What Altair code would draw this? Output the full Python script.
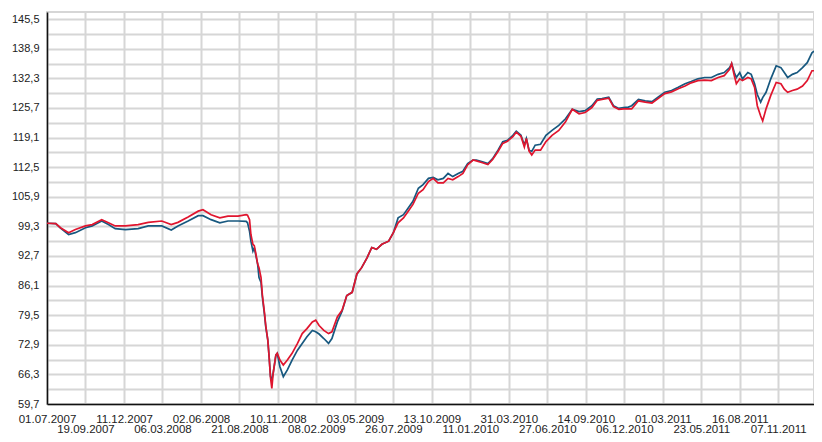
import altair as alt
import pandas as pd

# trading-day index of each sample
days = [0, 13, 20, 32, 42, 57, 67, 81, 91, 101, 116, 135, 150, 170, 184, 194, 209, 224, 231, 243,
        256, 268, 283, 295, 297, 300, 302, 305, 307, 309, 312, 314, 317, 319, 322, 324, 327, 329, 331, 333,
        335, 339, 341, 345, 350, 356, 363, 371, 378, 385, 393, 398, 403, 410, 417, 422, 430, 437, 444, 452,
        459, 466, 474, 481, 488, 496, 506, 513, 520, 528, 535, 542, 550, 557, 565, 572, 579, 587, 594, 601,
        609, 616, 623, 631, 636, 645, 653, 660, 668, 675, 682, 690, 695, 702, 707, 710, 714, 718, 723, 731,
        739, 748, 758, 768, 778, 788, 797, 807, 815, 822, 832, 839, 847, 854, 861, 866, 876, 886, 896, 905,
        915, 925, 935, 945, 954, 964, 974, 984, 994, 1003, 1011, 1014, 1018, 1021, 1026, 1030, 1038, 1043, 1048, 1052,
        1057, 1060, 1065, 1072, 1080, 1087, 1092, 1097, 1104, 1111, 1119, 1126, 1133, 1136]

blue = [100.0, 99.9, 98.9, 97.5, 97.9, 99.0, 99.4, 100.5, 99.7, 98.8, 98.6, 98.8, 99.4, 99.4, 98.5, 99.4, 100.5, 101.7, 101.7, 100.8,
        100.1, 100.5, 100.5, 100.4, 100.1, 98.2, 96.0, 93.8, 94.5, 93.1, 90.9, 87.9, 86.8, 83.5, 79.8, 76.9, 74.0, 70.2, 65.8, 65.1,
        66.6, 70.6, 71.0, 68.0, 65.8, 67.3, 69.5, 71.7, 73.2, 74.7, 76.1, 75.8, 75.3, 74.3, 73.2, 74.3, 78.0, 80.4, 83.9, 84.6,
        88.7, 90.1, 92.3, 94.6, 94.2, 95.3, 96.0, 97.9, 101.2, 101.9, 103.4, 104.9, 107.8, 108.6, 110.0, 110.2, 109.7, 110.0, 111.1, 110.4,
        111.1, 111.6, 113.3, 114.1, 114.1, 113.7, 113.3, 114.4, 116.3, 118.2, 118.5, 119.6, 120.5, 119.6, 117.4, 118.9, 116.3, 116.0, 117.4, 117.6,
        119.6, 120.7, 121.8, 123.3, 125.4, 124.9, 125.1, 126.2, 127.7, 127.8, 128.1, 126.2, 125.6, 125.8, 125.9, 126.2, 127.6, 127.3, 127.1, 128.1,
        129.2, 129.6, 130.3, 131.1, 131.6, 132.2, 132.5, 132.5, 133.2, 133.6, 134.7, 135.6, 133.6, 132.5, 133.6, 132.2, 133.6, 133.2, 131.1, 128.7,
        127.0, 128.0, 129.2, 132.2, 135.1, 134.7, 133.6, 132.5, 133.2, 133.6, 134.7, 135.8, 138.0, 138.4]

red = [100.0, 99.9, 99.0, 97.9, 98.6, 99.4, 99.7, 100.8, 100.1, 99.4, 99.4, 99.7, 100.2, 100.5, 99.7, 100.2, 101.4, 102.7, 103.0, 101.9,
       101.2, 101.6, 101.6, 101.9, 101.8, 100.8, 97.5, 95.3, 95.0, 93.5, 90.9, 90.1, 87.9, 84.0, 80.2, 77.2, 74.0, 70.2, 65.6, 63.2,
       66.6, 70.6, 71.0, 69.5, 68.4, 69.5, 71.0, 73.2, 75.4, 76.5, 78.0, 78.4, 77.2, 76.1, 75.4, 75.8, 79.1, 80.6, 83.9, 84.6,
       88.7, 90.1, 92.3, 94.6, 94.2, 95.3, 96.0, 97.9, 100.1, 101.2, 102.7, 104.2, 106.7, 107.5, 109.3, 110.0, 109.0, 109.0, 110.0, 109.7,
       110.4, 111.1, 113.0, 114.1, 113.9, 113.5, 113.1, 114.2, 116.0, 117.8, 118.3, 119.3, 120.3, 119.4, 117.0, 118.9, 116.1, 115.2, 116.3, 116.3,
       118.2, 119.6, 120.7, 122.6, 125.4, 124.4, 124.7, 125.8, 127.4, 127.6, 127.9, 126.0, 125.4, 125.5, 125.5, 125.5, 127.3, 127.0, 126.8, 127.8,
       128.9, 129.3, 130.0, 130.6, 131.3, 131.8, 131.9, 131.8, 132.5, 132.9, 134.3, 135.6, 132.9, 131.1, 132.2, 131.8, 132.5, 132.2, 130.3, 126.2,
       123.9, 122.8, 125.5, 128.5, 131.4, 131.1, 129.9, 129.2, 129.6, 129.9, 130.6, 131.8, 134.0, 134.0]

tick_labels = ["01.07.2007", "19.09.2007", "11.12.2007", "06.03.2008", "02.06.2008", "21.08.2008",
               "10.11.2008", "08.02.2009", "03.05.2009", "26.07.2009", "13.10.2009", "11.01.2010",
               "31.03.2010", "27.06.2010", "14.09.2010", "06.12.2010", "01.03.2011", "23.05.2011",
               "16.08.2011", "07.11.2011"]
tick_step = 57
y_ticks = [round(59.7 + 3.3 * k, 1) for k in range(27)]

df = pd.DataFrame({"day": days, "blue": blue, "red": red})

arr = "[" + ",".join("'%s'" % t for t in tick_labels) + "]"
idx = "round(datum.value/%d)" % tick_step
x_expr = "%s %% 2 == 0 ? %s[%s] : ['', %s[%s]]" % (idx, arr, idx, arr, idx)
y_expr = "round((datum.value-59.7)/3.3) % 2 == 0 ? replace(format(datum.value, '.1f'), '.', ',') : ''"

x_enc = alt.X("day:Q",
              scale=alt.Scale(domain=[0, 1136], nice=False, zero=False),
              axis=alt.Axis(values=[i * tick_step for i in range(len(tick_labels))],
                            labelExpr=x_expr, title=None, ticks=False, labelOverlap=False,
                            labelFlush=False, labelPadding=9, labelLineHeight=10.5,
                            labelFontSize=11.5, labelColor="#222", labelFont="Liberation Sans",
                            grid=True, gridColor="#d6d6d6", gridWidth=2,
                            domainColor="#111", domainWidth=1.5))

def y_enc(field):
    return alt.Y(field + ":Q",
                 scale=alt.Scale(domain=[59.7, 147.1], nice=False, zero=False),
                 axis=alt.Axis(values=y_ticks, labelExpr=y_expr, title=None, ticks=False,
                               labelOverlap=False, labelFlush=False, labelPadding=8,
                               labelFontSize=11, labelColor="#222", labelFont="Liberation Sans",
                               grid=True, gridColor="#d6d6d6", gridWidth=2,
                               domainColor="#111", domainWidth=1.5))

base = alt.Chart(df)
line_blue = base.mark_line(color="#17587f", strokeWidth=1.7).encode(x=x_enc, y=y_enc("blue"))
line_red = base.mark_line(color="#e0152e", strokeWidth=1.7).encode(x=x_enc, y=y_enc("red"))

chart = alt.layer(line_blue, line_red).properties(
    width=767, height=392,
    autosize=alt.AutoSizeParams(type="none"),
    padding={"left": 39, "top": 4, "right": 0, "bottom": 30},
).configure_view(stroke="#d6d6d6", strokeWidth=2)

chart.save("out.html", embed_options={"renderer": "svg", "actions": False})
